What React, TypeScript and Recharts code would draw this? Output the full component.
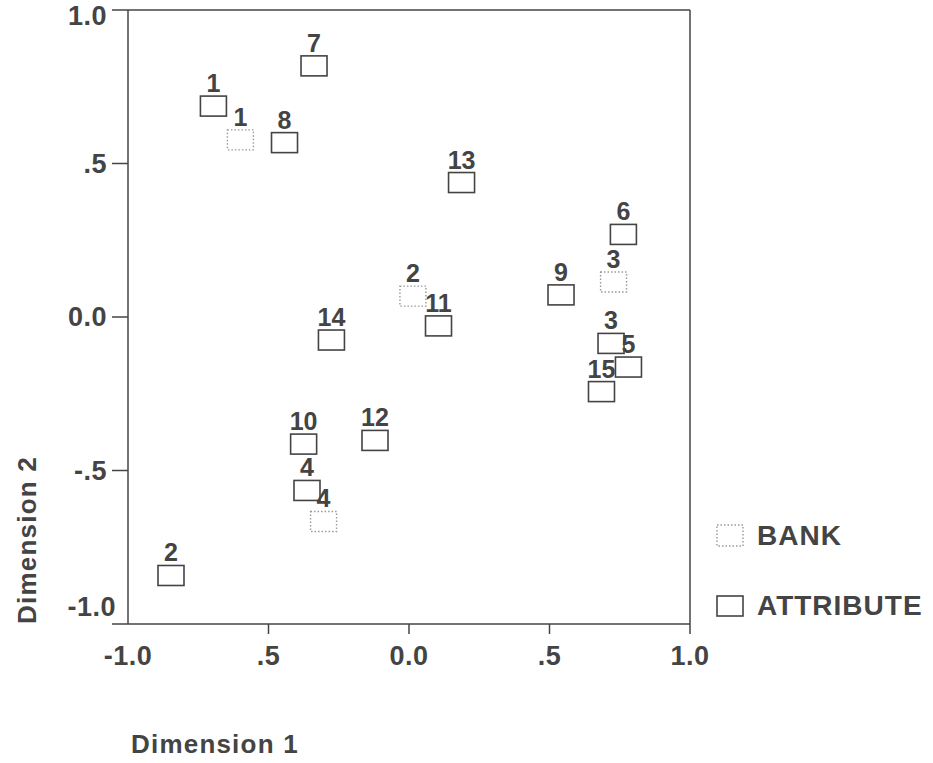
import { ScatterChart, Scatter, XAxis, YAxis, ReferenceLine, LabelList, Label } from 'recharts'

// attribute points (solid squares)
const ATTR_LABELS = ['1', '2', '3', '4', '5', '6', '7', '8', '9', '10', '11', '12', '13', '14', '15']
const ATTR_X = [-0.696, -0.847, 0.719, -0.363, 0.781, 0.763, -0.338, -0.443, 0.541, -0.375, 0.105, -0.121, 0.187, -0.276, 0.685]
const ATTR_Y = [0.687, -0.842, -0.086, -0.565, -0.163, 0.269, 0.818, 0.568, 0.072, -0.414, -0.029, -0.402, 0.438, -0.075, -0.243]

// bank points (dotted squares)
const BANK_LABELS = ['1', '2', '3', '4']
const BANK_X = [-0.6, 0.014, 0.728, -0.304]
const BANK_Y = [0.577, 0.068, 0.114, -0.666]

const X_TICKS = [-1, -0.5, 0, 0.5, 1]
const X_TICK_LABELS = ['-1.0', '.5', '0.0', '.5', '1.0']
const Y_TICKS = [-1, -0.5, 0, 0.5, 1]
const Y_TICK_LABELS = ['-1.0', '-.5', '0.0', '.5', '1.0']

const attrData = ATTR_LABELS.map((label, i) => ({ x: ATTR_X[i], y: ATTR_Y[i], label }))
const bankData = BANK_LABELS.map((label, i) => ({ x: BANK_X[i], y: BANK_Y[i], label }))

const INK = '#444'
const FONT = '"Liberation Sans", Arial, Helvetica, sans-serif'

const SolidBox = (props: any) => (
  <rect x={props.cx - 13} y={props.cy - 10} width={26} height={20} fill="none" stroke={INK} strokeWidth={1.6} />
)

const DottedBox = (props: any) => (
  <rect x={props.cx - 13} y={props.cy - 10} width={26} height={20} fill="none" stroke="#999" strokeWidth={1.4} strokeDasharray="1.5 2" />
)

// label sits centred just above the box
const PointLabel = (props: any) => (
  <text
    x={props.x + props.width / 2}
    y={props.y + props.height / 2 - 14}
    textAnchor="middle"
    fontFamily={FONT}
    fontWeight={700}
    fontSize={25}
    fill={INK}
  >
    {props.value}
  </text>
)

const XTick = (props: any) => {
  const { x, y, payload } = props
  const i = X_TICKS.indexOf(payload.value)
  return (
    <g>
      {i > 0 && <line x1={x} y1={624} x2={x} y2={634} stroke={INK} strokeWidth={1.5} />}
      <text x={x} y={665} textAnchor="middle" fontFamily={FONT} fontWeight={700} fontSize={27} fill={INK} letterSpacing={0.5}>
        {X_TICK_LABELS[i]}
      </text>
    </g>
  )
}

const YTick = (props: any) => {
  const { x, y, payload } = props
  const i = Y_TICKS.indexOf(payload.value)
  let dx = -3
  let dy = 9
  if (payload.value === -1) { dx = 6; dy = -8 }
  if (payload.value === 1) { dy = 15 }
  return (
    <text x={x + dx} y={y + dy} textAnchor="end" fontFamily={FONT} fontWeight={700} fontSize={27} fill={INK} letterSpacing={0.5}>
      {Y_TICK_LABELS[i]}
    </text>
  )
}

const LegendBox = () => (
  <div style={{ position: 'absolute', left: 716, top: 524, fontFamily: FONT, fontWeight: 700, fontSize: 28, color: INK, letterSpacing: 1 }}>
    <div style={{ display: 'flex', alignItems: 'center', height: 24, marginBottom: 46 }}>
      <svg width={28} height={24}>
        <rect x={1} y={1} width={26} height={21} fill="none" stroke="#999" strokeWidth={1.4} strokeDasharray="1.5 2" />
      </svg>
      <span style={{ marginLeft: 13 }}>BANK</span>
    </div>
    <div style={{ display: 'flex', alignItems: 'center', height: 24 }}>
      <svg width={28} height={24}>
        <rect x={1} y={2} width={26} height={20} fill="none" stroke={INK} strokeWidth={1.6} />
      </svg>
      <span style={{ marginLeft: 13 }}>ATTRIBUTE</span>
    </div>
  </div>
)

export default function App() {
  return (
    <div style={{ position: 'absolute', left: 0, top: 0, width: 933, height: 763, background: 'white' }}>
      <ScatterChart width={933} height={763} margin={{ top: 10, right: 243, bottom: 0, left: 0 }}>
        <XAxis
          type="number"
          dataKey="x"
          domain={[-1, 1]}
          ticks={X_TICKS}
          tick={<XTick />}
          tickLine={false}
          axisLine={{ stroke: INK, strokeWidth: 1.5 }}
          height={139}
        >
          <Label
            content={() => (
              <text x={131} y={753} fontFamily={FONT} fontWeight={700} fontSize={26} fill={INK} letterSpacing={1.2}>
                Dimension 1
              </text>
            )}
          />
        </XAxis>
        <YAxis
          type="number"
          dataKey="y"
          domain={[-1, 1]}
          ticks={Y_TICKS}
          tick={<YTick />}
          tickSize={16}
          tickLine={{ stroke: INK, strokeWidth: 1.5 }}
          axisLine={{ stroke: INK, strokeWidth: 1.5 }}
          width={128}
        >
          <Label
            content={() => (
              <text
                x={0}
                y={0}
                transform="translate(36 540) rotate(-90)"
                textAnchor="middle"
                fontFamily={FONT}
                fontWeight={700}
                fontSize={26}
                fill={INK}
                letterSpacing={1.2}
              >
                Dimension 2
              </text>
            )}
          />
        </YAxis>
        <ReferenceLine y={1} stroke={INK} strokeWidth={1.5} />
        <ReferenceLine x={1} stroke={INK} strokeWidth={1.5} />
        <Scatter name="BANK" data={bankData} shape={<DottedBox />} isAnimationActive={false}>
          <LabelList dataKey="label" content={<PointLabel />} />
        </Scatter>
        <Scatter name="ATTRIBUTE" data={attrData} shape={<SolidBox />} isAnimationActive={false}>
          <LabelList dataKey="label" content={<PointLabel />} />
        </Scatter>
      </ScatterChart>
      <LegendBox />
    </div>
  )
}
